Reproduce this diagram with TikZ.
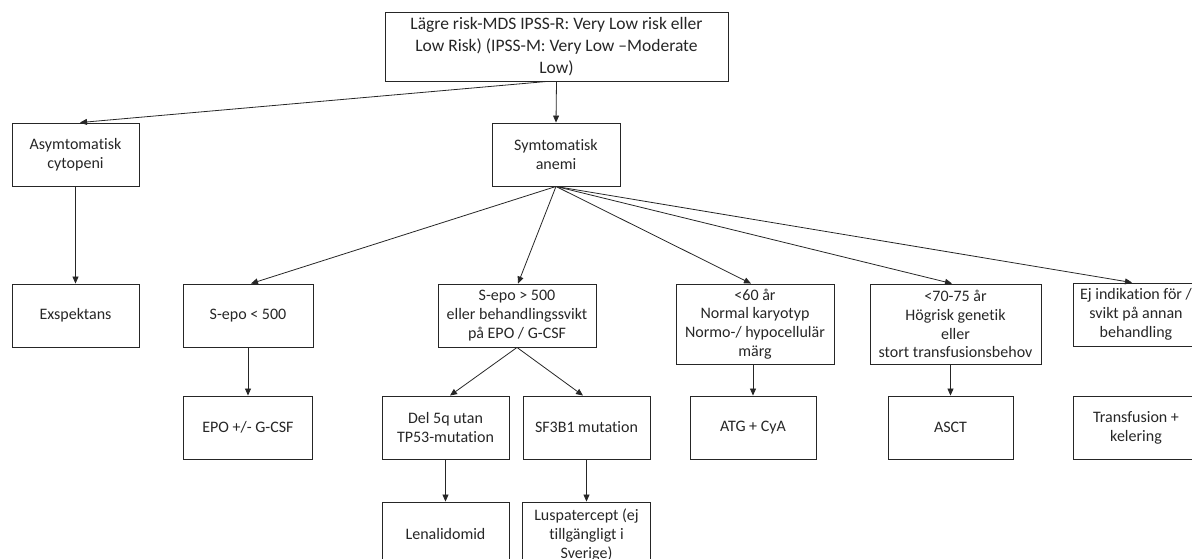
\documentclass[tikz,border=0pt]{standalone}
\usepackage{fontspec}
\setmainfont{Carlito}[Ligatures=NoCommon]
\usetikzlibrary{arrows.meta}
\begin{document}
\begin{tikzpicture}[x=1pt,y=-1pt,
 box/.style={draw=black!85, line width=0.9pt, align=center, inner sep=0pt, text=black!85,
   minimum height=63pt, font=\fontsize{16}{18.8}\selectfont},
 arr/.style={line width=0.8pt, draw=black!85, -{Triangle[length=7pt,width=6pt]}}]
\useasboundingbox (0,0) rectangle (1192,558);
\clip (0,0) rectangle (1192,558);
% level 0
\node[box, minimum width=343pt, minimum height=69pt, font=\fontsize{17.5}{22}\selectfont] (top) at (556.5,46.5)
  {Lägre risk-MDS IPSS-R: Very Low risk eller\\Low Risk) (IPSS-M: Very Low –Moderate\\Low)};
% level 1
\node[box, minimum width=127pt] (asym) at (75.5,154.5) {Asymtomatisk\\cytopeni};
\node[box, minimum width=128pt] (sym) at (556,154.5) {Symtomatisk\\anemi};
% level 2
\node[box, minimum width=127pt] (exsp) at (75.5,315.5) {Exspektans};
\node[box, minimum width=130pt] (sepolo) at (248,315.5) {S-epo < 500};
\node[box, minimum width=158pt] (sepohi) at (517,315.5) {S-epo > 500\\eller behandlingssvikt\\på EPO / G-CSF};
\node[box, minimum width=158pt, minimum height=80pt] (lt60) at (755,324) {<60 år\\Normal karyotyp\\Normo-/ hypocellulär\\märg};
\node[box, minimum width=171pt, minimum height=80pt] (lt70) at (955.5,324) {<70-75 år\\Högrisk genetik\\eller\\stort transfusionsbehov};
\node[box, minimum width=126pt] (ej) at (1136,314.5) {Ej indikation för /\\svikt på annan\\behandling};
% level 3
\node[box, minimum width=129pt] (epo) at (248,427.5) {EPO +/- G-CSF};
\node[box, minimum width=127pt] (del5q) at (445.5,427.5) {Del 5q utan\\TP53-mutation};
\node[box, minimum width=127pt] (sf3b1) at (586.5,427.5) {SF3B1 mutation};
\node[box, minimum width=126pt] (atg) at (753,427.5) {ATG + CyA};
\node[box, minimum width=125pt] (asct) at (950.5,427.5) {ASCT};
\node[box, minimum width=126pt] (transf) at (1136,427.5) {Transfusion +\\kelering};
% level 4
\node[box, minimum width=127pt] (lenal) at (445.5,533.5) {Lenalidomid};
\node[box, minimum width=128pt, minimum height=66pt] (lusp) at (586.5,535) {Luspatercept (ej\\tillgängligt i\\Sverige)};
% connectors
\draw[arr] ([xshift=-9.5pt]top.south) -- ([xshift=4.5pt]asym.north);
\draw[arr] (top.south) -- (sym.north);
\draw[arr] (asym.south) -- (exsp.north);
\draw[arr] (sym.south) -- ([xshift=3pt]sepolo.north);
\draw[arr] (sym.south) -- ([xshift=1pt]sepohi.north);
\draw[arr] (sym.south) -- ([xshift=-4pt]lt60.north);
\draw[arr] (sym.south) -- ([xshift=-3.5pt]lt70.north);
\draw[arr] (sym.south) -- ([xshift=-4pt]ej.north);
\draw[arr] (sepolo.south) -- (epo.north);
\draw[arr] (sepohi.south) -- ([xshift=4.5pt]del5q.north);
\draw[arr] (sepohi.south) -- ([xshift=-3.5pt]sf3b1.north);
\draw[arr] (del5q.south) -- (lenal.north);
\draw[arr] (sf3b1.south) -- (lusp.north);
\draw[arr] (atg.north |- lt60.south) -- (atg.north);
\draw[arr] (asct.north |- lt70.south) -- (asct.north);
\end{tikzpicture}
\end{document}
